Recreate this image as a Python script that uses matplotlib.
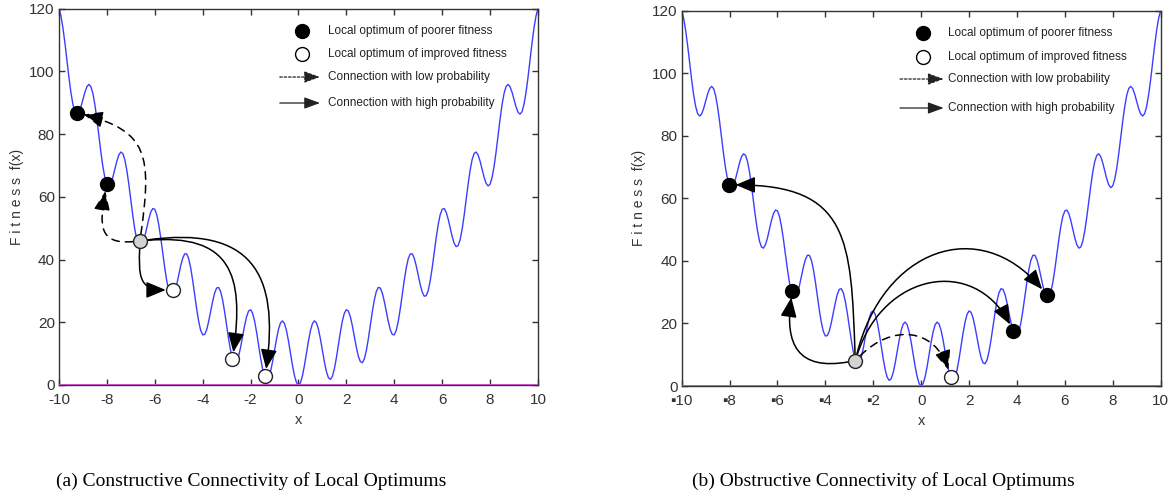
import numpy as np
import matplotlib
matplotlib.use("Agg")
import matplotlib.pyplot as plt
from matplotlib.patches import FancyArrowPatch
from matplotlib.path import Path

# ---------------- data ----------------
# fitness landscape f(x), sampled every 1/12 from x=-10 to x=10
curve_y = [
    # x = -10 ... -0.083
    120.00, 117.58, 113.77, 108.89, 103.44, 98.01, 93.18, 89.43, 87.11, 86.32,
    86.96, 88.68, 91.00, 93.33, 95.10, 95.80, 95.11, 92.91, 89.32, 84.67,
    79.44, 74.24, 69.62, 66.10, 64.00, 63.44, 64.29, 66.24, 68.78, 71.33,
    73.32, 74.25, 73.78, 71.80, 68.43, 64.00, 59.00, 54.01, 49.62, 46.32,
    44.44, 44.10, 45.18, 47.35, 50.11, 52.89, 55.10, 56.25, 56.00, 54.25,
    51.10, 46.89, 42.11, 37.35, 33.18, 30.10, 28.44, 28.32, 29.62, 32.01,
    35.00, 38.00, 40.43, 41.80, 41.78, 40.25, 37.32, 33.33, 28.78, 24.24,
    20.29, 17.43, 16.00, 16.10, 17.62, 20.24, 23.44, 26.67, 29.32, 30.91,
    31.11, 29.80, 27.10, 23.33, 19.00, 14.68, 10.96, 8.32, 7.11, 7.43,
    9.18, 12.01, 15.44, 18.89, 21.77, 23.58, 24.00, 22.91, 20.43, 16.89,
    12.78, 8.68, 5.18, 2.77, 1.78, 2.32, 4.29, 7.35, 11.00, 14.67,
    17.77, 19.80, 20.44, 19.58, 17.32, 14.00, 10.11, 6.24, 2.96, 0.77,
    # x = 0
    0.00,
    # x = 0.083 ... 10
    0.77, 2.96, 6.24, 10.11, 14.00, 17.32, 19.58, 20.44, 19.80, 17.77,
    14.67, 11.00, 7.35, 4.29, 2.32, 1.78, 2.77, 5.18, 8.68, 12.78,
    16.89, 20.43, 22.91, 24.00, 23.58, 21.77, 18.89, 15.44, 12.01, 9.18,
    7.43, 7.11, 8.32, 10.96, 14.68, 19.00, 23.33, 27.10, 29.80, 31.11,
    30.91, 29.32, 26.67, 23.44, 20.24, 17.62, 16.10, 16.00, 17.43, 20.29,
    24.24, 28.78, 33.33, 37.32, 40.25, 41.78, 41.80, 40.43, 38.00, 35.00,
    32.01, 29.62, 28.32, 28.44, 30.10, 33.18, 37.35, 42.11, 46.89, 51.10,
    54.25, 56.00, 56.25, 55.10, 52.89, 50.11, 47.35, 45.18, 44.10, 44.44,
    46.32, 49.62, 54.01, 59.00, 64.00, 68.43, 71.80, 73.78, 74.25, 73.32,
    71.33, 68.78, 66.24, 64.29, 63.44, 64.00, 66.10, 69.62, 74.24, 79.44,
    84.67, 89.32, 92.91, 95.11, 95.80, 95.10, 93.33, 91.00, 88.68, 86.96,
    86.32, 87.11, 89.43, 93.18, 98.01, 103.44, 108.89, 113.77, 117.58, 120.00,
]
x_range = (-10, 10)

# panel (a)
poor_a_x = [-9.25, -8.01]
poor_a_y = [86.8, 64.0]
start_a_x = [-6.62]
start_a_y = [45.9]
improved_a_x = [-5.25, -2.76, -1.39]
improved_a_y = [30.3, 8.2, 2.9]

# panel (b)
poor_b_x = [-8.04, -5.38, 3.85, 5.24]
poor_b_y = [64.3, 30.5, 17.7, 29.2]
start_b_x = [-2.75]
start_b_y = [8.1]
improved_b_x = [1.23]
improved_b_y = [3.0]

xticks = [-10, -8, -6, -4, -2, 0, 2, 4, 6, 8, 10]
xticklabels_a = ["-10", "-8", "-6", "-4", "-2", "0", "2", "4", "6", "8", "10"]
xticklabels_b = ["\u25aa10", "\u25aa8", "\u25aa6", "\u25aa4", "\u25aa2", "0", "2", "4", "6", "8", "10"]
yticks = [0, 20, 40, 60, 80, 100, 120]

legend_labels = ["Local optimum of poorer fitness",
                 "Local optimum of improved fitness",
                 "Connection with low probability",
                 "Connection with high probability"]
captions = ["(a) Constructive Connectivity of Local Optimums",
            "(b) Obstructive Connectivity of Local Optimums"]

# ---------------- styling ----------------
SANS = ["Liberation Sans", "DejaVu Sans"]
SERIF = ["Liberation Serif", "DejaVu Serif"]
CURVE_C = "#3d3dff"
BASE_C = "#cc44cc"
GRAY_C = "#d3d3d3"
TXT_C = "#333333"
MS = 10

fig = plt.figure(figsize=(11.7, 5.0), dpi=100)
ax_a = fig.add_axes([0.0504, 0.230, 0.4094, 0.753])
ax_b = fig.add_axes([0.5826, 0.228, 0.4094, 0.7506])

curve_x = np.linspace(x_range[0], x_range[1], len(curve_y))


def setup(ax, labels):
    ax.plot(curve_x, curve_y, color=CURVE_C, lw=1.0, zorder=2)
    ax.axhline(0, color=BASE_C, lw=1.3, zorder=3)
    ax.set_xlim(-10, 10)
    ax.set_ylim(0, 120)
    ax.set_xticks(xticks)
    ax.set_xticklabels(labels, family=SANS, fontsize=11, color=TXT_C)
    ax.set_yticks(yticks)
    ax.set_yticklabels([str(v) for v in yticks], family=SANS, fontsize=11, color=TXT_C)
    ax.tick_params(direction="in", top=True, right=True, length=4, width=1,
                   color=TXT_C)
    ax.tick_params(axis="x", pad=6)
    ax.tick_params(axis="y", pad=3)
    for s in ax.spines.values():
        s.set_color(TXT_C)
        s.set_linewidth(1.0)
    ax.set_xlabel("x", family=SANS, fontsize=10.5, color=TXT_C, labelpad=4)
    ax.set_ylabel("F i t n e s s  f(x)", family=SANS, fontsize=10, color=TXT_C, labelpad=4)


def curved_arrow(ax, p0, p1, ang0, ang1, k0=0.55, k1=0.55, dashed=False, r0=7, r1=7):
    T = ax.transData
    P0 = np.array(T.transform(p0))
    P1 = np.array(T.transform(p1))
    d0 = np.array([np.cos(np.radians(ang0)), np.sin(np.radians(ang0))])
    d1 = np.array([np.cos(np.radians(ang1)), np.sin(np.radians(ang1))])
    S = P0 + r0 * d0
    E = P1 - r1 * d1
    L = np.linalg.norm(E - S)
    C0 = S + k0 * L * d0
    C1 = E - k1 * L * d1
    verts = T.inverted().transform(np.array([S, C0, C1, E]))
    path = Path(verts, [Path.MOVETO, Path.CURVE4, Path.CURVE4, Path.CURVE4])
    arr = FancyArrowPatch(path=path, arrowstyle="-|>,head_length=0.6,head_width=0.25",
                          mutation_scale=20, lw=1.1, color="black",
                          linestyle=(0, (5, 4)) if dashed else "-", zorder=4)
    ax.add_patch(arr)


def legend(ax, xm, xt, x0, x1, rows):
    ax.plot([xm], [rows[0]], "o", ms=MS, mfc="black", mec="black", transform=ax.transAxes,
            clip_on=False, zorder=6)
    ax.plot([xm], [rows[1]], "o", ms=MS, mfc="white", mec="black", mew=1,
            transform=ax.transAxes, clip_on=False, zorder=6)
    for i, ls in ((2, (0, (2, 1.5))), (3, "-")):
        a = FancyArrowPatch((x0, rows[i]), (x1, rows[i]), transform=ax.transAxes,
                            arrowstyle="-|>,head_length=0.6,head_width=0.22",
                            mutation_scale=16, lw=0.9, color="#222222", linestyle=ls,
                            shrinkA=0, shrinkB=0)
        ax.add_patch(a)
    for i, lab in enumerate(legend_labels):
        ax.text(xt, rows[i], lab, transform=ax.transAxes, family=SANS, fontsize=8.5,
                color="#222222", va="center", ha="left")


def markers(ax, px, py, sx, sy, ix, iy):
    ax.plot(px, py, "o", ms=MS, mfc="black", mec="black", zorder=5)
    ax.plot(sx, sy, "o", ms=MS, mfc=GRAY_C, mec="#222222", mew=1, zorder=5)
    ax.plot(ix, iy, "o", ms=MS, mfc="white", mec="#222222", mew=1, zorder=5)


# ---------------- panel (a) ----------------
setup(ax_a, xticklabels_a)
markers(ax_a, poor_a_x, poor_a_y, start_a_x, start_a_y, improved_a_x, improved_a_y)
sa = (start_a_x[0], start_a_y[0])
curved_arrow(ax_a, sa, (poor_a_x[0], poor_a_y[0]), 82, 165, 0.6, 0.5, dashed=True)
curved_arrow(ax_a, sa, (poor_a_x[1], poor_a_y[1]), 185, 80, 0.6, 0.6, dashed=True)
curved_arrow(ax_a, sa, (improved_a_x[0], improved_a_y[0]), 268, 0, 0.55, 0.55)
curved_arrow(ax_a, sa, (improved_a_x[1], improved_a_y[1]), 5, 262, 0.6, 0.55)
curved_arrow(ax_a, sa, (improved_a_x[2], improved_a_y[2]), 8, 262, 0.6, 0.55)
legend(ax_a, 0.507, 0.562, 0.461, 0.545, [0.940, 0.879, 0.818, 0.749])

# ---------------- panel (b) ----------------
setup(ax_b, xticklabels_b)
markers(ax_b, poor_b_x, poor_b_y, start_b_x, start_b_y, improved_b_x, improved_b_y)
sb = (start_b_x[0], start_b_y[0])
curved_arrow(ax_b, sb, (poor_b_x[0], poor_b_y[0]), 92, 180, 0.55, 0.55)
curved_arrow(ax_b, sb, (poor_b_x[1], poor_b_y[1]), 190, 82, 0.6, 0.55)
curved_arrow(ax_b, sb, (poor_b_x[3], poor_b_y[3]), 76, -50, 0.55, 0.5)
curved_arrow(ax_b, sb, (poor_b_x[2], poor_b_y[2]), 72, -62, 0.55, 0.5)
curved_arrow(ax_b, sb, (improved_b_x[0], improved_b_y[0]), 45, -72, 0.5, 0.5, dashed=True)
legend(ax_b, 0.504, 0.556, 0.456, 0.547, [0.9406, 0.8766, 0.818, 0.7407])

# ---------------- captions ----------------
fig.text(251 / 1170, 1 - 481 / 500, captions[0], family=SERIF, fontsize=14,
         ha="center", va="center", color="black")
fig.text(883.5 / 1170, 1 - 481 / 500, captions[1], family=SERIF, fontsize=14,
         ha="center", va="center", color="black")

fig.savefig("out.png", dpi=100)
